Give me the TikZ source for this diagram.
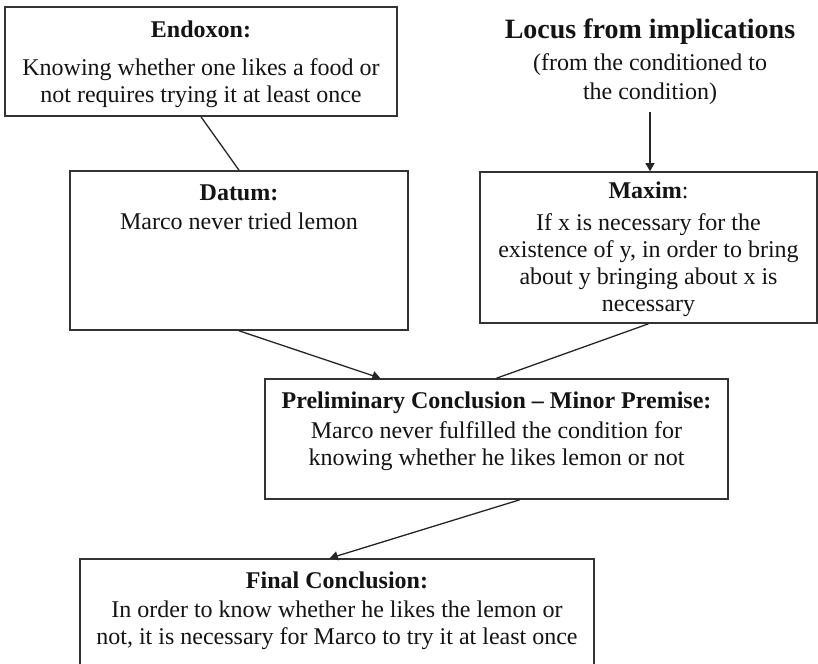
\documentclass[tikz,border=0pt]{standalone}
\usepackage{fontspec}
\setmainfont{Liberation Serif}
\usetikzlibrary{arrows.meta,calc}

\tikzset{
  box/.style={draw=black!80, line width=1.6pt, rectangle, inner sep=0pt, fill=none},
  boxtext/.style={anchor=north, inner sep=0pt, align=center, text=black!92,
    font=\fontsize{24}{27}\selectfont},
  link/.style={draw=black!85, line width=1.3pt},
  arrow/.style={link, -{Triangle[width=9pt,length=8pt]}},
}
% first-line strut so that each text block starts at a known height
\newcommand{\topstrut}{\rule{0pt}{20pt}}

\begin{document}
\begin{tikzpicture}[x=1pt, y=-1pt]
  \useasboundingbox (0,0) rectangle (818,663);
  \clip (0,0) rectangle (818,663);
  \fill[white] (0,0) rectangle (818,663);

  % boxes
  \node[box, minimum width=392pt, minimum height=109pt] (endoxon) at (201,61.5) {};
  \node[box, minimum width=338pt, minimum height=159pt] (datum)   at (239,250.5) {};
  \node[box, minimum width=337pt, minimum height=151pt] (maxim)   at (648.5,247.5) {};
  \node[box, minimum width=463pt, minimum height=120pt] (prelim)  at (496.5,439) {};
  \node[box, minimum width=514pt, minimum height=131pt] (final)   at (337,624.5) {};

  % box texts
  \node[boxtext] (endoxontxt) at (201,17)
    {\topstrut\textbf{Endoxon:}\\[11pt]
     Knowing whether one likes a food or\\
     not requires trying it at least once};
  \node[boxtext] (datumtxt) at (239,180)
    {\topstrut\textbf{Datum:}\\[2pt]
     Marco never tried lemon};
  \node[boxtext] (maximtxt) at (648.5,178)
    {\topstrut\textbf{Maxim}:\\[5pt]
     If x is necessary for the\\
     existence of y, in order to bring\\
     about y bringing about x is\\
     necessary};
  \node[boxtext] (prelimtxt) at (496.5,388)
    {\topstrut\textbf{Preliminary Conclusion -- Minor Premise:}\\[3pt]
     Marco never fulfilled the condition for\\
     knowing whether he likes lemon or not};
  \node[boxtext] (finaltxt) at (337,568)
    {\topstrut\textbf{Final Conclusion:}\\[2pt]
     In order to know whether he likes the lemon or\\
     not, it is necessary for Marco to try it at least once};

  % locus heading
  \node[anchor=base, inner sep=0pt, text=black!92,
        font=\fontsize{28}{32}\selectfont\bfseries] (locus) at (650,39)
    {Locus from implications};
  \node[boxtext, font=\fontsize{24}{29}\selectfont] (locsub) at (650,50)
    {\topstrut(from the conditioned to\\ the condition)};

  % connectors
  \draw[arrow] ([yshift=-7pt]locsub.south) -- (locsub.south |- maxim.north);
  \draw[link] (endoxon.south) -- (datum.north);
  \draw[arrow] (datum.south) -- ($(prelim.north west)!0.25!(prelim.north east)$);
  \draw[link] (maxim.south) -- (prelim.north);
  \draw[arrow] ($(prelim.south west)!0.55!(prelim.south east)$)
    -- ($(final.north west)!0.486!(final.north east)$);
\end{tikzpicture}
\end{document}
